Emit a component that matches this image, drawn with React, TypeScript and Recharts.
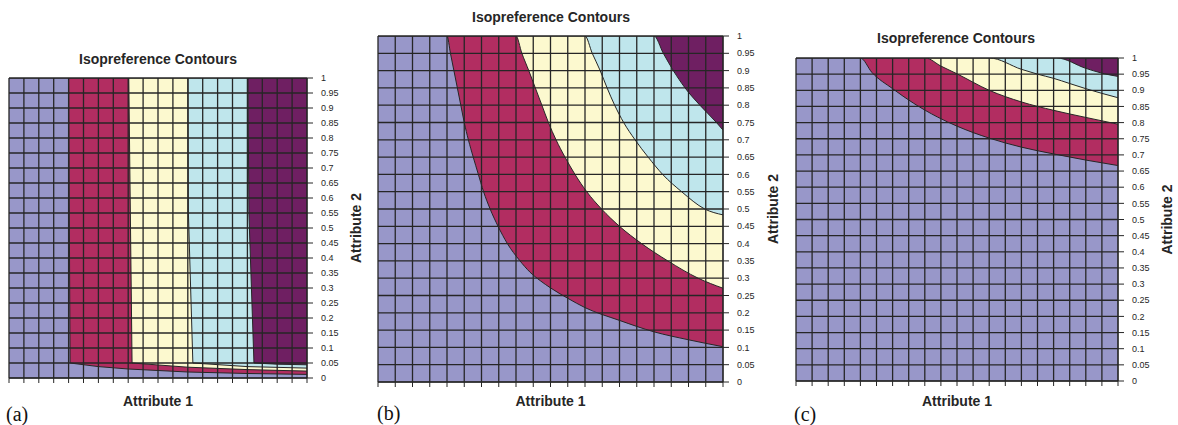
import React from "react";
import { ComposedChart, Area, XAxis, YAxis, CartesianGrid } from "recharts";

// shared axis ticks (both axes run 0..1 in 0.05 steps)
const tickValues = [
  0, 0.05, 0.1, 0.15, 0.2, 0.25, 0.3, 0.35, 0.4, 0.45, 0.5,
  0.55, 0.6, 0.65, 0.7, 0.75, 0.8, 0.85, 0.9, 0.95, 1,
];

// panel (a): upper edge of each coloured band, as [attribute 1, attribute 2]
const aPurple: [number, number][] = [[0, 1], [1, 1]];
const aCyan: [number, number][] = [[0, 1], [0.802, 1], [0.805, 0.55], [0.822, 0.05], [0.9, 0.046], [1, 0.044]];
const aYellow: [number, number][] = [[0, 1], [0.601, 1], [0.602, 0.55], [0.617, 0.05], [0.8, 0.038], [1, 0.033]];
const aMagenta: [number, number][] = [[0, 1], [0.402, 1], [0.413, 0.05], [0.6, 0.036], [0.8, 0.028], [1, 0.023]];
const aBlue: [number, number][] = [[0, 1], [0.2, 1], [0.205, 0.05], [0.3, 0.038], [0.4, 0.03], [0.6, 0.02], [0.8, 0.015], [1, 0.012]];

// panel (b)
const bPurple: [number, number][] = [[0, 1], [1, 1]];
const bCyan: [number, number][] = [[0, 1], [0.8, 1], [0.827, 0.95], [0.856, 0.9], [0.89, 0.85], [0.933, 0.8], [0.981, 0.75], [1, 0.728]];
const bYellow: [number, number][] = [[0, 1], [0.6, 1], [0.621, 0.95], [0.644, 0.9], [0.664, 0.85], [0.686, 0.8], [0.712, 0.75], [0.745, 0.7], [0.783, 0.65], [0.825, 0.6], [0.88, 0.55], [0.947, 0.5], [1, 0.483]];
const bMagenta: [number, number][] = [[0, 1], [0.4, 1], [0.417, 0.95], [0.437, 0.9], [0.456, 0.85], [0.475, 0.8], [0.494, 0.75], [0.516, 0.7], [0.542, 0.65], [0.571, 0.6], [0.605, 0.55], [0.648, 0.5], [0.7, 0.45], [0.764, 0.4], [0.84, 0.35], [0.928, 0.3], [1, 0.271]];
const bBlue: [number, number][] = [[0, 1], [0.2, 1], [0.21, 0.95], [0.22, 0.9], [0.23, 0.85], [0.24, 0.8], [0.25, 0.75], [0.262, 0.7], [0.276, 0.65], [0.29, 0.603], [0.306, 0.55], [0.325, 0.5], [0.348, 0.45], [0.375, 0.4], [0.41, 0.352], [0.44, 0.318], [0.47, 0.293], [0.5, 0.272], [0.55, 0.242], [0.6, 0.215], [0.7, 0.178], [0.8, 0.145], [0.9, 0.122], [1, 0.102]];

// panel (c)
const cPurple: [number, number][] = [[0, 1], [1, 1]];
const cCyan: [number, number][] = [[0, 1], [0.81, 1], [0.9, 0.968], [0.95, 0.953], [1, 0.943]];
const cYellow: [number, number][] = [[0, 1], [0.601, 1], [0.7, 0.965], [0.75, 0.95], [0.8, 0.937], [0.85, 0.921], [0.9, 0.905], [1, 0.877]];
const cMagenta: [number, number][] = [[0, 1], [0.402, 1], [0.45, 0.975], [0.5, 0.951], [0.6, 0.9], [0.7, 0.864], [0.8, 0.838], [0.9, 0.816], [1, 0.795]];
const cBlue: [number, number][] = [[0, 1], [0.2, 1], [0.236, 0.955], [0.3, 0.905], [0.365, 0.86], [0.44, 0.817], [0.5, 0.789], [0.6, 0.752], [0.7, 0.724], [0.8, 0.703], [0.9, 0.684], [1, 0.667]];

const COLORS = {
  purple: "#6f1f62",
  cyan: "#bfe6ec",
  yellow: "#fcf9cf",
  magenta: "#b22d61",
  blue: "#9897c9",
};
const INK = "#262626";
const FONT = '"Liberation Sans", Arial, sans-serif';

const toPts = (pairs: [number, number][]) => pairs.map(([x, y]) => ({ x, y }));

type Band = { name: string; color: string; pts: [number, number][] };

const bandsA: Band[] = [
  { name: "purple", color: COLORS.purple, pts: aPurple },
  { name: "cyan", color: COLORS.cyan, pts: aCyan },
  { name: "yellow", color: COLORS.yellow, pts: aYellow },
  { name: "magenta", color: COLORS.magenta, pts: aMagenta },
  { name: "blue", color: COLORS.blue, pts: aBlue },
];
const bandsB: Band[] = [
  { name: "purple", color: COLORS.purple, pts: bPurple },
  { name: "cyan", color: COLORS.cyan, pts: bCyan },
  { name: "yellow", color: COLORS.yellow, pts: bYellow },
  { name: "magenta", color: COLORS.magenta, pts: bMagenta },
  { name: "blue", color: COLORS.blue, pts: bBlue },
];
const bandsC: Band[] = [
  { name: "purple", color: COLORS.purple, pts: cPurple },
  { name: "cyan", color: COLORS.cyan, pts: cCyan },
  { name: "yellow", color: COLORS.yellow, pts: cYellow },
  { name: "magenta", color: COLORS.magenta, pts: cMagenta },
  { name: "blue", color: COLORS.blue, pts: cBlue },
];

interface PanelProps {
  bands: Band[];
  curve: "linear" | "monotone";
  left: number;
  top: number;
  plotW: number;
  plotH: number;
  axisH: number;
  axisW: number;
  titleX: number;
  titleY: number;
  tag: string;
  tagX: number;
  tagY: number;
}

const Panel: React.FC<PanelProps> = ({
  bands, curve, left, top, plotW, plotH, axisH, axisW, titleX, titleY, tag, tagX, tagY,
}) => {
  const width = left + plotW + axisW;
  const height = top + plotH + axisH;
  return (
    <>
      <div style={{ position: "absolute", left: 0, top: 0 }}>
        <ComposedChart width={width} height={height} margin={{ top, left, right: 0, bottom: 0 }}>
          <XAxis
            type="number"
            dataKey="x"
            domain={[0, 1]}
            ticks={tickValues}
            interval={0}
            tickFormatter={() => ""}
            tickSize={5}
            height={axisH}
            axisLine={{ stroke: INK }}
            tickLine={{ stroke: INK }}
            allowDataOverflow
            label={{ value: "Attribute 1", position: "center", fill: INK, fontSize: 14, fontWeight: "bold" }}
          />
          <YAxis
            type="number"
            orientation="right"
            domain={[0, 1]}
            ticks={tickValues}
            interval={0}
            width={axisW}
            tickSize={6}
            tickMargin={8}
            axisLine={{ stroke: INK }}
            tickLine={{ stroke: INK }}
            tick={{ fontSize: 9, fill: INK }}
            allowDataOverflow
            label={{ value: "Attribute 2", angle: -90, position: "center", fill: INK, fontSize: 14, fontWeight: "bold" }}
          />
          {bands.map((b) => (
            <Area
              key={b.name}
              data={toPts(b.pts)}
              dataKey="y"
              type={curve}
              fill={b.color}
              fillOpacity={1}
              stroke={INK}
              strokeWidth={1}
              dot={false}
              activeDot={false}
              isAnimationActive={false}
            />
          ))}
          <CartesianGrid stroke={INK} strokeWidth={1.3} zIndex={600} />
        </ComposedChart>
      </div>
      <div
        style={{
          position: "absolute",
          left: titleX - 150,
          top: titleY - 8,
          width: 300,
          lineHeight: "16px",
          textAlign: "center",
          fontSize: 14,
          fontWeight: "bold",
          color: INK,
        }}
      >
        Isopreference Contours
      </div>
      <div
        style={{
          position: "absolute",
          left: tagX,
          top: tagY - 12,
          lineHeight: "24px",
          fontSize: 20,
          fontFamily: '"Liberation Serif", "Times New Roman", serif',
          color: "#111",
        }}
      >
        {tag}
      </div>
    </>
  );
};

export default function App() {
  return (
    <div
      style={{
        position: "absolute",
        left: 0,
        top: 0,
        width: 1178,
        height: 425,
        overflow: "hidden",
        background: "#fff",
        fontFamily: FONT,
      }}
    >
      <Panel bands={bandsA} curve="linear" left={9} top={78} plotW={298} plotH={300} axisH={47} axisW={99}
        titleX={158} titleY={59} tag="(a)" tagX={6} tagY={414} />
      <Panel bands={bandsB} curve="monotone" left={378} top={36} plotW={345} plotH={346} axisH={38} axisW={100}
        titleX={551} titleY={17} tag="(b)" tagX={377} tagY={413} />
      <Panel bands={bandsC} curve="monotone" left={796} top={58} plotW={322} plotH={323} axisH={40} axisW={98}
        titleX={956} titleY={38} tag="(c)" tagX={794} tagY={414} />
    </div>
  );
}
